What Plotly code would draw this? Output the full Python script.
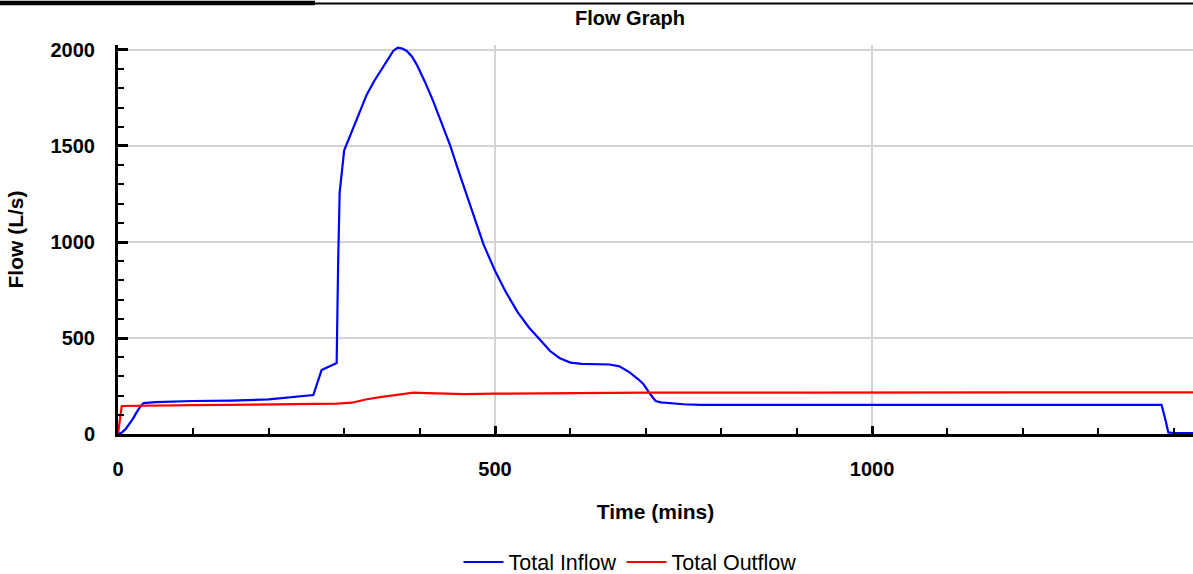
import plotly.graph_objects as go

# ---- data ----
inflow_time = [0, 5, 10, 15, 20, 25, 30, 34, 50, 100, 150, 200, 240, 259, 270, 290, 292, 294,
               300, 316, 330, 340, 352, 360, 365, 371, 377, 383, 390, 396, 407, 418, 429, 440,
               452, 465, 475, 485, 500, 515, 530, 545, 560, 573, 586, 600, 615, 630, 652, 665,
               679, 690, 697, 706, 713, 720, 735, 750, 772, 900, 1100, 1300, 1384, 1390,
               1393, 1400, 1426]
inflow_flow = [0, 8, 25, 50, 80, 115, 145, 161, 166, 172, 174, 180, 195, 203, 333, 370, 900, 1260,
               1478, 1630, 1769, 1840, 1915, 1965, 1995, 2012, 2008, 1995, 1965, 1925, 1835, 1734, 1625, 1509,
               1365, 1214, 1095, 985, 850, 735, 635, 555, 490, 432, 395, 372, 365, 363, 362, 352,
               320, 285, 259, 207, 172, 165, 160, 155, 152, 152, 152, 152, 152, 60,
               8, 5, 5]

outflow_time = [0, 5, 100, 200, 260, 290, 310, 330, 350, 370, 392, 410, 440, 460, 500, 600, 700,
                900, 1200, 1426]
outflow_flow = [0, 146, 150, 153, 156, 158, 163, 181, 193, 203, 215, 213, 210, 208, 210, 213, 215,
                216, 217, 217]

x_range = [0, 1425.7]
y_range = [0, 2026]

FONT = "Liberation Sans, Arial, sans-serif"

# the photographed page is squeezed vertically; build it a little taller to compensate
H = 583
K = H / 574.0
TOP = 44 * K
PLOT_H = 389 * K
BOT = H - TOP - PLOT_H

fig = go.Figure()
fig.add_trace(go.Scatter(x=inflow_time, y=inflow_flow, mode="lines", name="Total Inflow",
                         line=dict(color="#0000ff", width=2.2)))
fig.add_trace(go.Scatter(x=outflow_time, y=outflow_flow, mode="lines", name="Total Outflow",
                         line=dict(color="#ff0000", width=2.2)))

axis_common = dict(
    showline=True, linecolor="black", linewidth=3,
    showgrid=True, gridcolor="#d3d3d3", gridwidth=1.5,
    zeroline=False, ticks="inside", tickcolor="black", tickwidth=3,
    tickfont=dict(family=FONT, size=20, color="black", weight="bold"),
    automargin=False,
)

fig.update_xaxes(
    **axis_common, range=x_range, dtick=500, tick0=0, ticklen=8,
    ticklabelstandoff=15,
    minor=dict(dtick=100, ticks="inside", ticklen=6, tickwidth=2, tickcolor="black", showgrid=False),
    title=dict(text="Time (mins)", standoff=26,
               font=dict(family=FONT, size=21, color="black", weight="bold")),
)
fig.update_yaxes(
    **axis_common, range=y_range, dtick=500, tick0=0, ticklen=10,
    ticklabelstandoff=16,
    minor=dict(dtick=100, ticks="inside", ticklen=6, tickwidth=2, tickcolor="black", showgrid=False),
    title=dict(text="Flow (L/s)", standoff=22,
               font=dict(family=FONT, size=21, color="black", weight="bold")),
)

# decorative frame strip at very top of the page
fig.add_shape(type="line", xref="paper", yref="paper",
              x0=-0.1098, x1=(315 - 118) / 1075, y0=(433 - 2) / 389, y1=(433 - 2) / 389,
              line=dict(color="black", width=4.5))
fig.add_shape(type="line", xref="paper", yref="paper",
              x0=(315 - 118) / 1075, x1=1.0, y0=(433 - 2.5) / 389, y1=(433 - 2.5) / 389,
              line=dict(color="black", width=2))

fig.update_layout(
    width=1193, height=H,
    margin=dict(l=118, r=0, t=TOP, b=BOT),
    paper_bgcolor="white", plot_bgcolor="white",
    title=dict(text="Flow Graph", x=630 / 1193, xanchor="center", y=1 - 18 / 574, yanchor="middle",
               font=dict(family=FONT, size=20, color="black", weight="bold")),
    legend=dict(orientation="h", x=(630 - 118) / 1075, xanchor="center",
                y=(433 - 561) / 389, yanchor="middle",
                font=dict(family=FONT, size=21.5, color="black"),
                itemwidth=40, tracegroupgap=0),
    showlegend=True,
)

post = (
    "document.documentElement.style.margin='0';"
    "document.documentElement.style.padding='0';"
    "document.documentElement.style.overflow='hidden';"
    "document.body.style.margin='0';"
    "document.body.style.padding='0';"
    "document.body.style.overflow='hidden';"
)

fig.write_html("out.html", config={"displayModeBar": False}, post_script=post)
